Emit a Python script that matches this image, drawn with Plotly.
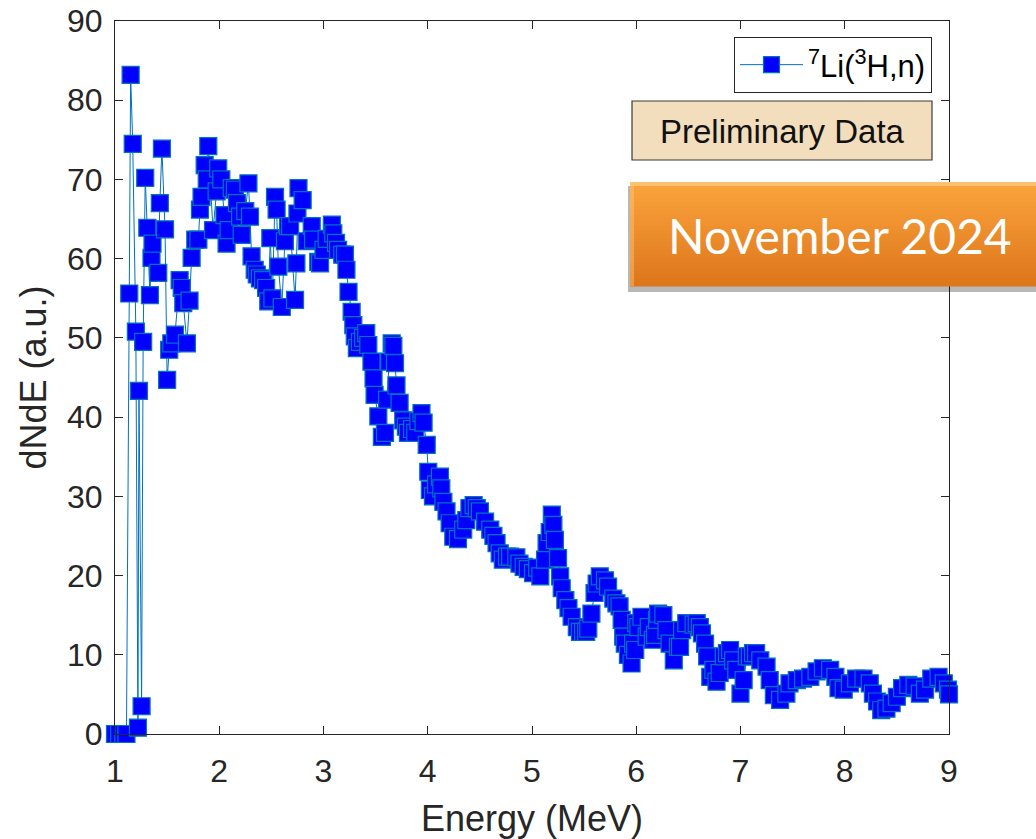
import plotly.graph_objects as go

# ---- data ----
energy_mev = [
    1.00, 1.04, 1.08, 1.11, 1.137, 1.15, 1.17, 1.20, 1.22, 1.23, 1.255, 1.27, 1.29, 1.31, 1.335,
    1.35, 1.36, 1.415, 1.43, 1.45, 1.48, 1.50, 1.52, 1.54, 1.575, 1.62, 1.64, 1.655, 1.69, 1.715,
    1.735, 1.77, 1.80, 1.815, 1.83, 1.86, 1.88, 1.895, 1.94, 1.975, 1.99, 2.02, 2.05, 2.07, 2.09,
    2.12, 2.15, 2.17, 2.20, 2.215, 2.25, 2.28, 2.295, 2.31, 2.34, 2.36, 2.39, 2.42, 2.45, 2.47,
    2.49, 2.51, 2.535, 2.55, 2.567, 2.60, 2.63, 2.66, 2.68, 2.727, 2.74, 2.75, 2.76, 2.80, 2.84,
    2.887, 2.90, 2.95, 2.967, 3.00, 3.03, 3.08, 3.094, 3.12, 3.14, 3.18, 3.206, 3.22, 3.24, 3.27,
    3.286, 3.30, 3.32, 3.35, 3.38, 3.41, 3.43, 3.46, 3.48, 3.49, 3.526, 3.56, 3.59, 3.61, 3.63,
    3.654, 3.67, 3.686, 3.70, 3.73, 3.765, 3.79, 3.81, 3.85, 3.88, 3.91, 3.94, 3.96, 3.99, 4.005,
    4.02, 4.05, 4.08, 4.117, 4.13, 4.15, 4.18, 4.21, 4.245, 4.29, 4.34, 4.37, 4.40, 4.44, 4.47,
    4.50, 4.55, 4.60, 4.63, 4.66, 4.69, 4.72, 4.76, 4.79, 4.85, 4.88, 4.92, 4.96, 5.01, 5.05,
    5.08, 5.125, 5.14, 5.17, 5.19, 5.205, 5.22, 5.25, 5.27, 5.285, 5.32, 5.35, 5.38, 5.43, 5.46,
    5.49, 5.52, 5.54, 5.57, 5.60, 5.62, 5.65, 5.70, 5.73, 5.78, 5.81, 5.84, 5.86, 5.875, 5.89,
    5.92, 5.955, 5.97, 5.99, 6.00, 6.02, 6.05, 6.10, 6.12, 6.16, 6.18, 6.20, 6.21, 6.26, 6.29,
    6.32, 6.36, 6.40, 6.42, 6.44, 6.48, 6.55, 6.58, 6.61, 6.63, 6.66, 6.68, 6.71, 6.74, 6.77,
    6.80, 6.84, 6.87, 6.90, 6.93, 6.96, 7.00, 7.03, 7.06, 7.09, 7.12, 7.15, 7.19, 7.25, 7.28,
    7.32, 7.38, 7.44, 7.47, 7.54, 7.60, 7.67, 7.73, 7.79, 7.86, 7.91, 7.94, 7.99, 8.05, 8.11,
    8.18, 8.24, 8.27, 8.31, 8.35, 8.40, 8.45, 8.50, 8.55, 8.61, 8.67, 8.72, 8.77, 8.83, 8.90,
    8.95, 8.99, 9.00,
]
dnde_au = [
    0.0, 0.0, 0.0, 0.0, 55.6, 83.2, 74.5, 50.8, 0.8, 43.3, 3.5, 49.5, 70.2, 63.9, 55.4,
    60.1, 61.9, 58.2, 67.0, 73.9, 63.7, 44.7, 48.5, 49.3, 50.4, 57.3, 56.3, 54.4, 49.3, 54.7,
    60.1, 62.4, 62.4, 66.2, 67.8, 71.8, 70.0, 74.2, 63.6, 68.5, 71.4, 70.0, 65.5, 61.9, 63.6,
    68.9, 68.7, 67.0, 65.3, 63.0, 66.0, 69.5, 65.3, 60.3, 58.6, 58.0, 57.5, 57.3, 56.3, 54.6,
    62.6, 55.0, 67.8, 66.2, 59.0, 53.9, 62.2, 64.1, 64.1, 54.8, 59.4, 65.7, 68.9, 67.4, 62.2,
    64.1, 62.4, 59.6, 59.4, 61.1, 62.5, 64.3, 63.2, 62.0, 61.1, 60.5, 60.5, 58.6, 55.8, 53.3,
    51.6, 50.2, 48.7, 49.5, 50.0, 50.6, 49.1, 47.0, 44.9, 42.8, 40.1, 37.5, 38.0, 42.2, 47.0,
    49.3, 49.0, 46.8, 44.0, 41.8, 39.6, 38.8, 38.0, 38.5, 38.0, 39.5, 40.5, 39.3, 36.5, 33.1,
    30.8, 30.0, 31.5, 32.5, 31.0, 29.3, 28.1, 26.6, 24.9, 24.6, 25.8, 27.0, 28.5, 28.9, 28.5,
    28.1, 26.8, 25.8, 25.0, 24.1, 22.8, 22.0, 22.4, 22.4, 22.3, 21.5, 21.1, 20.8, 20.3, 21.0,
    19.9, 22.0, 24.1, 25.5, 27.7, 26.4, 24.5, 22.2, 19.9, 18.4, 16.9, 15.9, 14.8, 13.5, 12.9,
    12.9, 12.9, 13.3, 15.2, 17.8, 19.0, 19.9, 19.4, 18.6, 17.1, 16.5, 16.1, 14.4, 12.3, 11.4,
    10.0, 8.9, 11.4, 10.6, 14.0, 13.5, 14.8, 12.3, 13.5, 11.9, 12.5, 14.4, 15.2, 15.0, 13.1,
    11.4, 9.3, 11.0, 11.0, 13.1, 14.0, 13.8, 14.0, 13.5, 12.7, 11.4, 9.8, 7.2, 8.1, 6.6,
    7.7, 9.8, 10.2, 10.6, 9.3, 8.1, 5.1, 6.8, 9.8, 9.8, 10.2, 10.2, 9.3, 8.5, 6.8,
    4.9, 4.3, 5.1, 6.4, 6.8, 7.0, 7.2, 7.9, 8.3, 8.1, 7.2, 5.8, 5.6, 6.4, 7.0,
    7.0, 6.4, 5.1, 4.1, 3.0, 3.2, 3.9, 4.7, 5.8, 6.2, 6.0, 5.1, 5.6, 7.0, 7.2,
    6.4, 5.6, 5.0,
]
x_ticks = [1, 2, 3, 4, 5, 6, 7, 8, 9]
y_ticks = [0, 10, 20, 30, 40, 50, 60, 70, 80, 90]
series_name = "<sup>7</sup>Li(<sup>3</sup>H,n)"

# ---- layout geometry (pixels) ----
W, H = 1036, 839
L, R, T, B = 115, 949, 21, 734
PW, PH = R - L, B - T


def px_x(p):
    return (p - L) / PW


def px_y(p):
    return (B - p) / PH


AX = "#262626"
FONT = "Liberation Sans, Arial, Helvetica, sans-serif"

fig = go.Figure()
fig.add_trace(go.Scatter(
    x=energy_mev, y=dnde_au, mode="lines+markers", name=series_name,
    line=dict(color="#0072BD", width=1),
    marker=dict(symbol="square", size=17, color="#0000FF",
                line=dict(color="#0072BD", width=1.2)),
    cliponaxis=False,
))

axis_common = dict(
    showline=True, linecolor=AX, linewidth=1, mirror="ticks",
    ticks="inside", ticklen=8, tickwidth=1, tickcolor=AX,
    showgrid=False, zeroline=False, automargin=False,
    tickfont=dict(family=FONT, size=32, color=AX),
)

fig.update_layout(
    width=W, height=H,
    margin=dict(l=L, r=W - R, t=T, b=H - B, pad=0, autoexpand=False),
    paper_bgcolor="white", plot_bgcolor="white",
    showlegend=True,
    legend=dict(
        x=px_x(932), y=px_y(37), xanchor="right", yanchor="top",
        bgcolor="white", bordercolor=AX, borderwidth=1,
        font=dict(family=FONT, size=31, color="#000000"),
        itemsizing="trace", itemwidth=63,
        tracegroupgap=0,
    ),
    xaxis=dict(range=[1, 9], tickvals=x_ticks, ticklabelstandoff=9,
               title=dict(text="Energy (MeV)", standoff=19,
                          font=dict(family=FONT, size=36, color=AX)),
               **axis_common),
    yaxis=dict(range=[0, 90], tickvals=y_ticks, ticklabelstandoff=5,
               title=dict(text="dNdE (a.u.)", standoff=9,
                          font=dict(family=FONT, size=36, color=AX)),
               **axis_common),
)

shapes = []
# "Preliminary Data" box
shapes.append(dict(type="rect", xref="paper", yref="paper",
                   x0=px_x(632), x1=px_x(932), y0=px_y(160), y1=px_y(101),
                   fillcolor="#F2DDBD", line=dict(color="#3A3A3A", width=1.2)))
# orange banner: shadow + vertical gradient bands
bx0, bx1, by0, by1 = 630, 1045, 182, 286
shapes.append(dict(type="rect", xref="paper", yref="paper",
                   x0=px_x(bx0 - 2), x1=px_x(bx1), y0=px_y(by1 + 6), y1=px_y(by0 + 4),
                   fillcolor="rgba(0,0,0,0.28)", line=dict(width=0)))
top_rgb = (250, 164, 60)
bot_rgb = (222, 118, 28)
nb = 26
for i in range(nb):
    t = i / (nb - 1)
    c = tuple(int(round(a + (b - a) * t)) for a, b in zip(top_rgb, bot_rgb))
    ya = by0 + (by1 - by0) * i / nb
    yb = by0 + (by1 - by0) * (i + 1) / nb
    shapes.append(dict(type="rect", xref="paper", yref="paper",
                       x0=px_x(bx0), x1=px_x(bx1), y0=px_y(yb + 0.5), y1=px_y(ya),
                       fillcolor="rgb(%d,%d,%d)" % c, line=dict(width=0), layer="above"))
# bevel highlight on top / left edges
shapes.append(dict(type="rect", xref="paper", yref="paper",
                   x0=px_x(bx0), x1=px_x(bx1), y0=px_y(by0 + 4), y1=px_y(by0),
                   fillcolor="rgba(255,215,150,0.55)", line=dict(width=0)))
shapes.append(dict(type="rect", xref="paper", yref="paper",
                   x0=px_x(bx0), x1=px_x(bx0 + 4), y0=px_y(by1), y1=px_y(by0),
                   fillcolor="rgba(255,200,120,0.45)", line=dict(width=0)))
fig.update_layout(shapes=shapes)

fig.add_annotation(
    xref="paper", yref="paper", x=px_x(782), y=px_y(131),
    xanchor="center", yanchor="middle", showarrow=False,
    text="Preliminary Data",
    font=dict(family=FONT, size=33, color="#111111"),
)
fig.add_annotation(
    xref="paper", yref="paper", x=px_x(840), y=px_y(236),
    xanchor="center", yanchor="middle", showarrow=False,
    text="November 2024",
    font=dict(family="Lato, Open Sans, sans-serif", size=48, color="#FFFFFF"),
)

fig.write_html("out.html",
               config={"displayModeBar": False},
               post_script="document.body.style.margin='0px';document.body.style.overflow='hidden';")
